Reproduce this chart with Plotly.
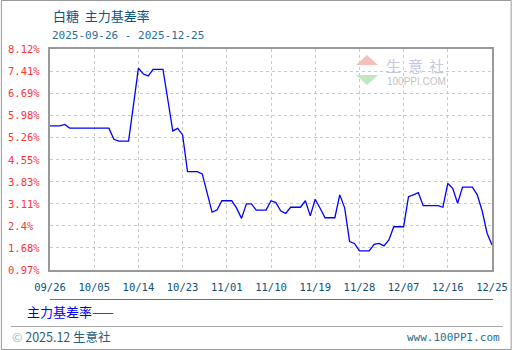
import plotly.graph_objects as go

dates = ["2025-09-26","2025-09-28","2025-09-29","2025-09-30","2025-10-08","2025-10-09","2025-10-10","2025-10-12","2025-10-13","2025-10-14","2025-10-15","2025-10-16","2025-10-17","2025-10-19","2025-10-20","2025-10-21","2025-10-22","2025-10-23","2025-10-24","2025-10-26","2025-10-27","2025-10-28","2025-10-29","2025-10-30","2025-10-31","2025-11-02","2025-11-03","2025-11-04","2025-11-05","2025-11-06","2025-11-07","2025-11-09","2025-11-10","2025-11-11","2025-11-12","2025-11-13","2025-11-14","2025-11-16","2025-11-17","2025-11-18","2025-11-19","2025-11-20","2025-11-21","2025-11-23","2025-11-24","2025-11-25","2025-11-26","2025-11-27","2025-11-28","2025-11-30","2025-12-01","2025-12-02","2025-12-03","2025-12-04","2025-12-05","2025-12-07","2025-12-08","2025-12-09","2025-12-10","2025-12-11","2025-12-14","2025-12-15","2025-12-16","2025-12-17","2025-12-18","2025-12-19","2025-12-21","2025-12-22","2025-12-23","2025-12-24","2025-12-25"]
basis_rate = [5.63,5.63,5.68,5.56,5.56,5.20,5.14,5.14,6.31,7.50,7.31,7.25,7.46,7.46,6.47,5.47,5.55,5.34,4.15,4.15,4.08,3.45,2.84,2.91,3.21,3.21,2.97,2.64,3.11,3.11,2.91,2.91,3.21,3.15,2.88,2.80,3.00,3.00,3.21,2.72,3.26,2.97,2.66,2.66,3.40,2.98,1.89,1.83,1.59,1.59,1.80,1.83,1.75,1.94,2.37,2.37,3.34,3.40,3.47,3.05,3.05,3.00,3.77,3.61,3.13,3.65,3.65,3.40,2.88,2.16,1.78]

x_tick_dates = ["2025-09-26","2025-10-05","2025-10-14","2025-10-23","2025-11-01","2025-11-10","2025-11-19","2025-11-28","2025-12-07","2025-12-16","2025-12-25"]
x_tick_labels = ["09/26","10/05","10/14","10/23","11/01","11/10","11/19","11/28","12/07","12/16","12/25"]
y_tick_vals = [8.12,7.405,6.69,5.975,5.26,4.545,3.83,3.115,2.40,1.685,0.97]
y_tick_labels = ["8.12%","7.41%","6.69%","5.98%","5.26%","4.55%","3.83%","3.11%","2.4%","1.68%","0.97%"]

title_text = "白糖  主力基差率"
subtitle_text = "2025-09-26 - 2025-12-25"
series_name = "主力基差率"
watermark_chars = ["生", "意", "社"]

W, H = 520, 350
L, R, T, B = 50, 20, 49, 80
PW, PH = W - L - R, H - T - B

def px(x):
    return (x - L) / PW

def py(y):
    return 1 - (y - T) / PH

mono = "DejaVu Sans Mono"
cjk = "Noto Sans CJK SC"

fig = go.Figure()
fig.add_trace(go.Scatter(x=dates, y=basis_rate, mode="lines",
                         line=dict(color="#0000ff", width=1.3),
                         name=series_name, showlegend=False, hoverinfo="skip"))

fig.update_layout(
    width=W, height=H,
    margin=dict(l=L, r=R, t=T, b=B),
    paper_bgcolor="white", plot_bgcolor="white",
    xaxis=dict(type="date", range=[x_tick_dates[0], x_tick_dates[-1]],
               tickvals=x_tick_dates, ticktext=x_tick_labels,
               showgrid=True, gridcolor="#c8c8c8", griddash="3px,3px", gridwidth=1,
               showline=True, linecolor="#999999", linewidth=1.5, mirror=True,
               ticks="", zeroline=False, ticklabelstandoff=7,
               tickfont=dict(family=mono, size=10.5, color="#0f4f78")),
    yaxis=dict(range=[y_tick_vals[-1], y_tick_vals[0]],
               tickvals=y_tick_vals, showticklabels=False,
               showgrid=True, gridcolor="#c8c8c8", griddash="3px,3px", gridwidth=1,
               showline=True, linecolor="#999999", linewidth=1.5, mirror=True,
               ticks="", zeroline=False),
)

ann = []
for v, t in zip(y_tick_vals, y_tick_labels):
    ann.append(dict(x=px(5), y=v, xref="paper", yref="y", text=t, showarrow=False,
                    xanchor="left", yanchor="middle",
                    font=dict(family=mono, size=10.5, color="#ff3333")))

ann += [
    dict(x=px(51), y=py(15), xref="paper", yref="paper", text=title_text, showarrow=False,
         xanchor="left", yanchor="middle", font=dict(family=cjk, size=13, color="#0a5585")),
    dict(x=px(50), y=py(35), xref="paper", yref="paper", text=subtitle_text, showarrow=False,
         xanchor="left", yanchor="middle", font=dict(family=mono, size=11, color="#2a6e96")),
    dict(x=px(25), y=py(311), xref="paper", yref="paper", text=series_name + "——", showarrow=False,
         xanchor="left", yanchor="middle", font=dict(family=cjk, size=13, color="#0000ff")),
    dict(x=px(9), y=py(336), xref="paper", yref="paper",
         text="<span style='color:#9ab4c8'>©</span> 2025.12 生意社", showarrow=False,
         xanchor="left", yanchor="middle", font=dict(family=cjk, size=12.5, color="#1f5f80")),
    dict(x=px(510), y=py(337), xref="paper", yref="paper", text="www.100PPI.com", showarrow=False,
         xanchor="right", yanchor="middle", font=dict(family=mono, size=11, color="#2a6e8e")),
    dict(x=px(391), y=py(81), xref="paper", yref="paper", text="100PPI.COM", showarrow=False,
         xanchor="left", yanchor="middle", font=dict(family="Liberation Sans", size=10, color="#c4c4c4")),
]
for cx, ch in zip([399.7, 421.7, 443.7], watermark_chars):
    ann.append(dict(x=px(cx), y=py(66), xref="paper", yref="paper", text=ch, showarrow=False,
                    xanchor="center", yanchor="middle",
                    font=dict(family=cjk, size=15, color="#c4c9df")))

shapes = [
    dict(type="rect", xref="paper", yref="paper", x0=px(0.5), x1=px(519.5), y0=py(0.5), y1=py(349.5),
         line=dict(color="#999999", width=1)),
    dict(type="line", xref="paper", yref="paper", x0=px(50), x1=px(501), y0=py(299.5), y1=py(299.5),
         line=dict(color="#3f8a6a", width=1)),
    dict(type="line", xref="paper", yref="paper", x0=px(10), x1=px(511), y0=py(326.5), y1=py(326.5),
         line=dict(color="#aaaaaa", width=1)),
    dict(type="path", xref="paper", yref="paper",
         path=f"M {px(361.5)},{py(65)} L {px(384)},{py(65)} L {px(372.7)},{py(55)} Z",
         fillcolor="#f4c0bc", line=dict(width=0)),
    dict(type="path", xref="paper", yref="paper",
         path=f"M {px(361.5)},{py(75)} L {px(384)},{py(75)} L {px(372.7)},{py(85)} Z",
         fillcolor="#c0e6c4", line=dict(width=0)),
]

fig.update_layout(annotations=ann, shapes=shapes)
fig.write_html("out.html")
